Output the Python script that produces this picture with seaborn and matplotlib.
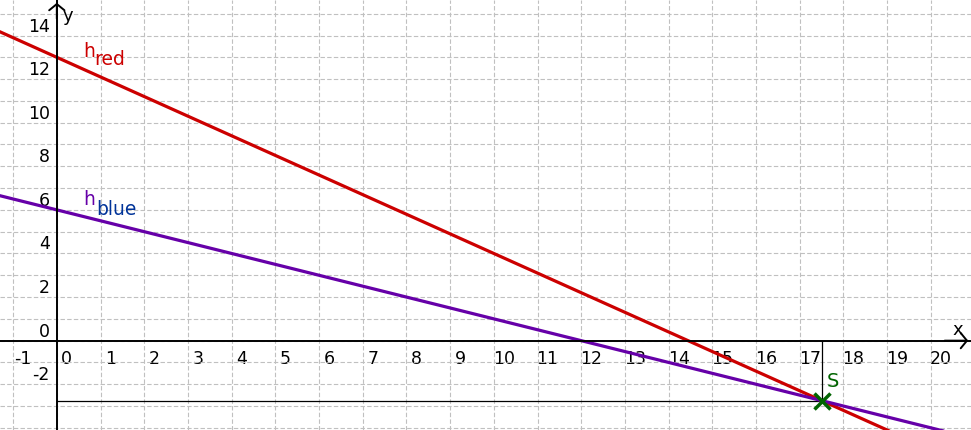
import matplotlib
matplotlib.use("Agg")
import matplotlib.pyplot as plt
import matplotlib.transforms as mtransforms
import pandas as pd
import seaborn as sns

# points (x, y) for both lines
x_pts = [-1.5, 0.0, 17.5, 21.5]
red_y = [14.35, 13.0, -2.75, -6.35]
blue_y = [6.75, 6.0, -2.75, -4.75]
S_point = (17.5, -2.75)

x_ticks = list(range(-1, 21))
y_ticks = list(range(-4, 16))
y_labelled = [-2, 0, 2, 4, 6, 8, 10, 12, 14]

RED = "#cc0000"
PURPLE = "#6600a8"
DARKBLUE = "#003399"
GREEN = "#006400"

sns.set_style("white")
plt.rcParams['font.family'] = ['DejaVu Sans']
plt.rcParams['axes.unicode_minus'] = False
plt.rcParams['text.color'] = "black"

df = pd.DataFrame({
    "x": x_pts * 2,
    "y": red_y + blue_y,
    "line": ["red"] * len(x_pts) + ["blue"] * len(x_pts),
})

fig = plt.figure(figsize=(9.71, 4.30), dpi=100)
ax = fig.add_axes([0, 0, 1, 1])

# guide lines to S
ax.plot([0, S_point[0]], [S_point[1], S_point[1]], color="black", lw=0.9, zorder=2)
ax.plot([S_point[0], S_point[0]], [0, S_point[1]], color="black", lw=0.9, zorder=2)

sns.lineplot(data=df, x="x", y="y", hue="line", palette={"red": RED, "blue": PURPLE},
             linewidth=2.3, legend=False, ax=ax, zorder=3)

ax.plot(*S_point, marker="x", color=GREEN, markersize=11, mew=2.5, zorder=4)

ax.set_xlim(-1.30, 20.92)
ax.set_ylim(-4.10, 15.63)
ax.set_xlabel("")
ax.set_ylabel("")

ax.set_xticks(x_ticks)
ax.set_yticks(y_ticks)
ax.set_yticklabels([str(v) if v in y_labelled else "" for v in y_ticks])
ax.grid(True, color="#c0c0c0", linestyle=(0, (4, 2)), linewidth=0.8)
ax.set_axisbelow(True)

for side in ["top", "right"]:
    ax.spines[side].set_visible(False)
for side in ["left", "bottom"]:
    ax.spines[side].set_position(("data", 0))
    ax.spines[side].set_linewidth(1.4)
    ax.spines[side].set_color("black")
    ax.spines[side].set_zorder(5)

ax.tick_params(axis="x", direction="out", length=3, width=1.1, labelsize=12.5, pad=4,
               colors="black")
ax.tick_params(axis="y", direction="out", length=4, width=1.1, labelsize=12.5, pad=1,
               colors="black")

off_x = mtransforms.ScaledTranslation(10 / 100, 0, fig.dpi_scale_trans)
for lab in ax.get_xticklabels():
    lab.set_transform(lab.get_transform() + off_x)
for lab in ax.get_yticklabels():
    lab.set_va("bottom")

# axis arrows
ax.annotate("", xy=(1.0, 0), xycoords=("axes fraction", "data"),
            xytext=(0.97, 0), textcoords=("axes fraction", "data"),
            arrowprops=dict(arrowstyle="->,head_length=0.45,head_width=0.55", lw=1.4, color="black"))
ax.annotate("", xy=(0, 1.0), xycoords=("data", "axes fraction"),
            xytext=(0, 0.95), textcoords=("data", "axes fraction"),
            arrowprops=dict(arrowstyle="->,head_length=0.45,head_width=0.55", lw=1.4, color="black"))
ax.text(20.49, 0.26, "x", fontsize=13, ha="left", va="baseline")
ax.text(0.12, 14.67, "y", fontsize=13, ha="left", va="baseline")

# line names
ax.text(0.595, 13.03, "h", color=RED, fontsize=13.5, ha="left", va="baseline")
ax.text(0.854, 12.65, "red", color=RED, fontsize=13.5, ha="left", va="baseline")
ax.text(0.609, 6.22, "h", color=PURPLE, fontsize=13.5, ha="left", va="baseline")
ax.text(0.899, 5.77, "blue", color=DARKBLUE, fontsize=13.5, ha="left", va="baseline")
ax.text(17.62, -2.11, "S", color=GREEN, fontsize=14, ha="left", va="baseline")

fig.savefig("out.png", dpi=100)
